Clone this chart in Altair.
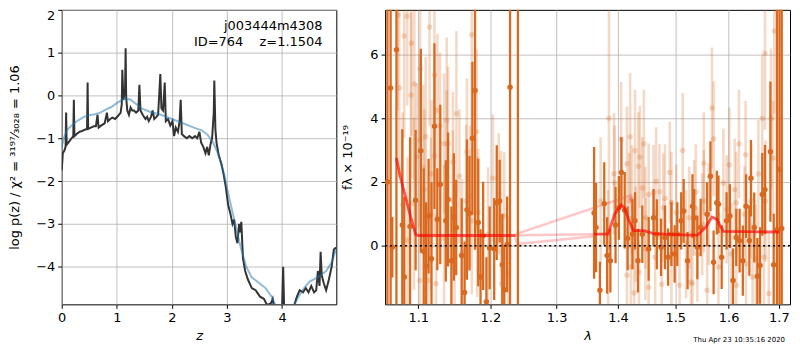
import altair as alt
import pandas as pd

# ---------------- left panel: log p(z) ----------------
z_pz = [0.00, 0.02, 0.05, 0.07, 0.08, 0.09, 0.12, 0.15, 0.18, 0.21, 0.22, 0.23, 0.27, 0.32, 0.37,
        0.42, 0.46, 0.47, 0.48, 0.53, 0.58, 0.62, 0.65, 0.67, 0.72, 0.78, 0.82, 0.84, 0.88, 0.92,
        0.97, 1.02, 1.07, 1.09, 1.10, 1.12, 1.15, 1.16, 1.17, 1.19, 1.22, 1.25, 1.28, 1.31, 1.35,
        1.39, 1.41, 1.43, 1.47, 1.52, 1.55, 1.58, 1.62, 1.65, 1.68, 1.72, 1.75, 1.79, 1.81, 1.84,
        1.87, 1.89, 1.93, 1.97, 2.01, 2.04, 2.07, 2.11, 2.14, 2.16, 2.18, 2.22, 2.27, 2.32, 2.37,
        2.42, 2.46, 2.50, 2.53, 2.57, 2.61, 2.64, 2.67, 2.70, 2.73, 2.76, 2.77, 2.79, 2.81, 2.85,
        2.90, 2.94, 2.98, 3.02, 3.06, 3.10, 3.13, 3.16, 3.19, 3.22, 3.24, 3.26, 3.29, 3.33, 3.38,
        3.45, 3.52, 3.60, 3.67, 3.73, 3.80, 3.83, 3.86, 3.95, 4.00, 4.02, 4.04, 4.15, 4.22, 4.27,
        4.32, 4.38, 4.43, 4.48, 4.53, 4.58, 4.62, 4.65, 4.68, 4.70, 4.72, 4.76, 4.80, 4.85, 4.90,
        4.94, 4.98]
logp = [-1.75, -1.35, -1.28, -1.20, -0.40, -1.15, -1.10, -1.05, -1.00, -0.95, -0.10, -0.95, -0.90, -0.85, -0.83,
        -0.80, -0.78, 0.30, -0.78, -0.75, -0.72, -0.72, -0.45, -0.75, -0.70, -0.65, -0.40, -0.60, -0.55, -0.52,
        -0.55, -0.48, -0.40, -0.20, 0.60, -0.10, 0.15, 1.10, -0.05, -0.35, -0.45, -0.28, -0.35, -0.35, -0.40,
        -0.35, 0.25, -0.35, -0.45, -0.55, -0.50, -0.60, -0.50, -0.35, -0.55, -0.50, -0.45, 0.50, -0.30, -0.35,
        0.30, -0.60, -0.55, -0.70, -0.60, -0.95, -0.75, -0.85, -0.60, -0.10, -0.90, -0.95, -1.00, -0.95, -1.00,
        -0.95, -1.00, -0.85, -1.10, -1.20, -1.35, -1.20, -1.40, -1.15, -1.00, -0.40, 0.35, -0.80, -1.10, -1.40,
        -1.60, -1.85, -2.15, -2.55, -2.75, -3.00, -2.90, -3.30, -3.45, -3.00, -3.20, -2.95, -3.80, -4.10, -4.30,
        -4.50, -4.55, -4.70, -4.75, -4.90, -4.85, -4.75, -5.00, -5.20, -5.00, -4.00, -5.10, -5.30, -4.90, -4.70,
        -4.55, -4.60, -4.50, -4.60, -4.45, -4.60, -4.55, -4.10, -4.45, -3.65, -4.20, -4.40, -4.55, -4.30, -4.00,
        -3.60, -3.55]

z_smooth = [0.00, 0.05, 0.10, 0.20, 0.30, 0.40, 0.50, 0.60, 0.70, 0.80, 0.90, 1.00, 1.10, 1.18, 1.25,
            1.35, 1.45, 1.60, 1.80, 2.00, 2.20, 2.40, 2.55, 2.65, 2.75, 2.85, 2.95, 3.05, 3.15, 3.25,
            3.35, 3.45, 3.60, 3.70, 3.80, 3.90, 4.00, 4.10, 4.20, 4.30, 4.40, 4.50, 4.60, 4.70, 4.80,
            4.90, 4.98]
logp_smooth = [-1.20, -0.95, -0.80, -0.68, -0.58, -0.50, -0.46, -0.44, -0.40, -0.33, -0.27, -0.18, -0.10, -0.07, -0.10,
               -0.20, -0.30, -0.38, -0.45, -0.55, -0.65, -0.75, -0.82, -0.92, -1.10, -1.40, -1.85, -2.45, -3.00, -3.55,
               -4.00, -4.25, -4.40, -4.50, -4.68, -4.95, -5.10, -5.10, -4.95, -4.70, -4.50, -4.35, -4.28, -4.20, -4.10,
               -3.90, -3.60]

z_ticks = [0, 1, 2, 3, 4]
logp_ticks = [-4, -3, -2, -1, 0, 1, 2]
label_root = "j003444m4308"
label_id = "ID=764\u00a0\u00a0\u00a0\u00a0z=1.1504"

# ---------------- right panel: spectrum ----------------
dark_lam = [1.0598, 1.0639, 1.0660, 1.0714, 1.0790, 1.0816, 1.0892, 1.0965, 1.1034, 1.1073,
            1.1104, 1.1138, 1.1177, 1.1217, 1.1256, 1.1296, 1.1372, 1.1403, 1.1449, 1.1483,
            1.1516, 1.1592, 1.1633, 1.1666, 1.1701, 1.1743, 1.1780, 1.1826, 1.1859, 1.1896,
            1.1943, 1.1990, 1.2056, 1.2093, 1.2136, 1.2175, 1.2204, 1.2246, 1.2289, 1.2406,
            1.3601, 1.3633, 1.3697, 1.3769, 1.3817, 1.3871, 1.3958, 1.4014, 1.4057, 1.4113,
            1.4163, 1.4246, 1.4290, 1.4341, 1.4416, 1.4527, 1.4613, 1.4671, 1.4746, 1.4816,
            1.4872, 1.4932, 1.4990, 1.5038, 1.5109, 1.5154, 1.5226, 1.5316, 1.5347, 1.5407,
            1.5468, 1.5589, 1.5652, 1.5712, 1.5773, 1.5805, 1.5866, 1.5960, 1.6024, 1.6085,
            1.6148, 1.6213, 1.6276, 1.6340, 1.6405, 1.6437, 1.6502, 1.6565, 1.6618, 1.6663,
            1.6717, 1.6827, 1.6894, 1.6961, 1.7013, 1.7059]
dark_flux = [2.00, 4.95, -0.05, 6.15, 0.65, -0.98, 0.60, 1.43, 2.98, -0.18,
             -0.64, 0.93, -0.41, 3.75, 0.83, 1.92, 0.78, 1.45, -0.47, 0.90,
             0.57, -0.31, -1.47, 1.13, 1.02, 3.37, 4.87, 0.73, -0.98, 0.31,
             -1.76, -0.07, -0.10, 1.35, 1.40, -0.60, -1.38, 0.04, 4.97, -3.00,
             1.03, 0.57, -1.40, 1.32, -0.31, -0.47, 0.65, 1.19, 2.30, 1.11,
             0.23, 0.36, 0.78, -0.47, 0.36, -0.10, 0.88, 0.36, -0.05, 0.26,
             -0.36, 0.36, -0.26, 0.36, 0.78, 1.09, -0.47, 1.24, 0.88, -0.05,
             0.57, 0.99, 2.18, -0.52, 1.35, 1.30, -0.36, 0.78, 0.93, -1.09,
             0.26, 0.16, -0.47, 1.24, 0.16, 2.12, 0.57, -0.96, -0.62, 1.61,
             1.76, 2.95, -0.60, 0.50, 2.39, 0.54]
dark_err = [12.0, 12.0, 0.95, 9.0, 3.0, 2.5, 2.8, 2.2, 3.2, 2.6,
            2.0, 1.8, 2.4, 2.6, 1.6, 2.5, 1.9, 2.1, 1.7, 2.0,
            1.5, 1.8, 1.6, 2.2, 1.8, 2.4, 5.0, 2.0, 1.5, 1.7,
            1.4, 1.3, 1.6, 1.8, 1.3, 1.6, 1.4, 1.5, 12.0, 20.0,
            2.07, 1.4, 0.9, 1.3, 1.2, 1.0, 1.2, 1.0, 1.1, 1.2,
            1.0, 1.1, 0.9, 1.0, 0.9, 1.0, 0.9, 1.1, 0.9, 1.0,
            0.9, 1.0, 0.9, 1.0, 0.9, 1.0, 0.9, 1.0, 0.9, 1.0,
            0.9, 1.0, 1.1, 1.0, 1.0, 0.9, 1.0, 0.9, 1.0, 1.0,
            0.9, 1.0, 1.1, 1.0, 1.1, 1.2, 1.1, 1.2, 1.2, 1.3,
            1.4, 2.2, 1.6, 12.0, 12.0, 12.0]

light_lam = [1.0730, 1.0854, 1.0815, 1.0909, 1.1151, 1.1026, 1.0948, 1.0904, 1.0751, 1.1217,
             1.1257, 1.1385, 1.1292, 1.1099, 1.1021, 1.1349, 1.1403, 1.1519, 1.0978, 1.1217,
             1.1470, 1.1385, 1.1065, 1.1177, 1.1560, 1.1082, 1.0943, 1.1470, 1.0794, 1.1169,
             1.0859, 1.1349, 1.1492, 1.1130, 1.1239, 1.1021, 1.1734, 1.1666, 1.1803, 1.1711,
             1.1656, 1.1824, 1.1734, 1.2122, 1.2156, 1.2203, 1.1812, 1.2262, 1.2170, 1.2037,
             1.1967, 1.1597,
             1.4052, 1.4206, 1.4443, 1.4290, 1.4374, 1.4151, 1.4347, 1.3932, 1.4902, 1.5137,
             1.4659, 1.4717, 1.4527, 1.4816, 1.4613, 1.4932, 1.3942, 1.4416, 1.4235, 1.4189,
             1.4471, 1.4786, 1.5020, 1.5256, 1.4302, 1.5197, 1.4471, 1.4642, 1.4932, 1.4218,
             1.4151, 1.4358, 1.4527, 1.4758, 1.4274, 1.5079, 1.5287, 1.3833, 1.3709, 1.3847,
             1.5681, 1.6200, 1.5712, 1.5528, 1.6331, 1.6011, 1.6717, 1.6907, 1.6663, 1.6841,
             1.6881, 1.6585, 1.6117, 1.5377, 1.5898, 1.5528, 1.5347, 1.5620, 1.5961, 1.6149,
             1.6437, 1.6309, 1.6729, 1.5497, 1.5407, 1.5805, 1.6053, 1.6340, 1.6533, 1.6697,
             1.5316, 1.5589, 1.6149, 1.6795, 1.6469]
light_flux = [7.24, 7.20, 6.58, 6.35, 6.86, 5.55, 5.07, 4.72, 4.95, 5.36,
              4.25, 3.93, 3.76, 3.42, 3.32, 3.20, 3.21, 4.14, 2.80, 2.82,
              2.63, 2.47, 2.44, 2.26, 2.18, 1.77, 1.32, 1.42, 1.28, 0.99,
              0.18, 0.24, -0.36, -1.09, -1.19, -1.09, 6.62, 2.95, 3.58, 1.56,
              1.40, 1.04, 0.78, 1.63, 0.88, 0.93, 0.59, -0.86, -1.21, 2.12,
              0.36, -0.21,
              3.34, 3.42, 3.19, 2.99, 2.78, 2.57, 2.49, 2.26, 2.30, 2.99,
              2.02, 1.69, 1.61, 1.48, 1.66, 1.35, 1.97, 1.81, 1.45, 1.40,
              0.88, 1.19, 1.04, 0.88, 0.36, 0.05, -0.10, -0.36, -0.26, -0.67,
              -0.93, -0.83, -1.30, -1.21, -1.48, -1.24, -1.14, -0.05, 1.40, 4.00,
              4.32, 3.19, 3.35, 2.59, 2.85, 2.54, 6.04, 6.74, 3.99, 3.99,
              2.75, 2.25, 1.76, 1.68, 1.97, 1.40, 1.19, 0.99, 1.14, 1.35,
              1.40, 0.99, 1.40, 0.67, -0.26, -0.67, -0.26, -0.57, -0.41, -0.36,
              -1.19, -1.40, -1.24, -1.50, -0.98]
light_err = [3.0, 2.8, 3.2, 2.9, 3.1, 2.7, 3.0, 2.6, 2.8, 2.9,
             2.4, 2.6, 2.3, 2.5, 2.7, 2.2, 2.4, 2.6, 2.3, 2.5,
             2.2, 2.4, 2.6, 2.3, 2.1, 2.5, 2.7, 2.2, 2.9, 2.4,
             2.6, 2.3, 2.1, 2.4, 2.2, 2.5, 3.2, 2.3, 2.6, 2.2,
             2.4, 2.0, 2.3, 1.9, 2.1, 2.0, 2.2, 1.8, 1.9, 2.0,
             2.1, 2.3,
             1.8, 2.0, 1.7, 1.9, 1.6, 1.8, 1.7, 1.9, 1.6, 1.8,
             1.7, 1.5, 1.6, 1.7, 1.5, 1.6, 1.8, 1.6, 1.7, 1.5,
             1.6, 1.7, 1.5, 1.6, 1.5, 1.7, 1.6, 1.5, 1.7, 1.6,
             1.5, 1.6, 1.7, 1.5, 1.6, 1.7, 1.6, 1.8, 2.0, 3.6,
             1.9, 1.7, 1.8, 1.6, 1.7, 1.8, 2.4, 2.6, 2.0, 2.2,
             1.8, 1.7, 1.6, 1.5, 1.7, 1.6, 1.5, 1.6, 1.7, 1.6,
             1.8, 1.5, 1.9, 1.6, 1.5, 1.7, 1.6, 1.8, 1.7, 1.9,
             1.6, 1.7, 1.8, 1.9, 1.7]

# best-fit model, one list per drawn trace
model_seg = ["a"] * 7 + ["b"] * 16
model_lam = [1.0714, 1.0760, 1.0836, 1.0900, 1.0965, 1.1000, 1.2370,
             1.3600, 1.3833, 1.3942, 1.4052, 1.4107, 1.4189, 1.4263, 1.4443,
             1.4613, 1.5256, 1.5407, 1.5558, 1.5681, 1.5773, 1.5898, 1.7007]
model_flux = [2.75, 2.20, 1.50, 0.90, 0.36, 0.32, 0.32,
              0.36, 0.36, 0.99, 1.28, 1.19, 0.78, 0.47, 0.47,
              0.38, 0.33, 0.33, 0.57, 0.90, 0.83, 0.45, 0.43]
faint_seg = ["p1", "p1", "p1", "p2", "p2", "p3", "p3", "p3"]
faint_lam = [1.2370, 1.4218, 1.4280, 1.2370, 1.3600, 1.2360, 1.2395, 1.3600]
faint_flux = [0.36, 1.58, 0.50, 0.33, 0.36, 0.33, 0.05, 0.30]

lam_ticks = [1.1, 1.2, 1.3, 1.4, 1.5, 1.6, 1.7]
flux_ticks = [0, 2, 4, 6]
timestamp = "Thu Apr 23 10:35:16 2020"

# ---------------- build ----------------
ORANGE = "#d9691e"
FONT = "DejaVu Sans"

df_pz = pd.DataFrame({"z": z_pz, "logp": logp})
df_sm = pd.DataFrame({"z": z_smooth, "logp": logp_smooth})

xz = alt.X("z:Q", scale=alt.Scale(domain=[0, 4.985], nice=False, zero=False),
           axis=alt.Axis(values=z_ticks, title="z", titleFontStyle="italic", format="d",
                         labelFlush=False, titlePadding=5))
yp = alt.Y("logp:Q", scale=alt.Scale(domain=[-4.88, 2], nice=False, zero=False),
           axis=alt.Axis(values=logp_ticks, format="d", labelFlush=True,
                         title="log p(z) / χ² = ³¹⁹⁷⁄₃₀₂₈ = 1.06", titlePadding=14))

l_dark = alt.Chart(df_pz).mark_line(color="#333333", strokeWidth=2, clip=True).encode(x=xz, y=yp)
l_blue = alt.Chart(df_sm).mark_line(color="#1f77b4", opacity=0.5, strokeWidth=2, clip=True).encode(x=xz, y=yp)
df_lab = pd.DataFrame({"t": [label_root]})
t1 = alt.Chart(df_lab).mark_text(align="right", baseline="middle", fontSize=13, font=FONT, color="black").encode(
    x=alt.value(262), y=alt.value(16), text="t:N")
df_lab2 = pd.DataFrame({"t": [label_id]})
t2 = alt.Chart(df_lab2).mark_text(align="right", baseline="middle", fontSize=13, font=FONT, color="black").encode(
    x=alt.value(262), y=alt.value(32), text="t:N")

left = alt.layer(l_dark, l_blue, t1, t2).properties(width=276, height=296)

df_dark = pd.DataFrame({"lam": dark_lam, "flux": dark_flux, "err": dark_err})
df_light = pd.DataFrame({"lam": light_lam, "flux": light_flux, "err": light_err})
df_model = pd.DataFrame({"seg": model_seg, "lam": model_lam, "flux": model_flux,
                         "ord": list(range(len(model_lam)))})
df_faint = pd.DataFrame({"seg": faint_seg, "lam": faint_lam, "flux": faint_flux,
                         "ord": list(range(len(faint_lam)))})

xl = alt.X("lam:Q", scale=alt.Scale(type="log", domain=[1.0568, 1.723], nice=False, zero=False),
           axis=alt.Axis(values=lam_ticks, format=".1f", title="λ", titleFontStyle="italic",
                         labelFlush=False, titlePadding=5))
yscale = alt.Scale(domain=[-1.84, 7.4], nice=False, zero=False)
yaxis = alt.Axis(values=flux_ticks, format="d", title="fλ × 10⁻¹⁹", titlePadding=15)
yf = alt.Y("flux:Q", scale=yscale, axis=yaxis)

def bars(df, opacity, width):
    base = alt.Chart(df).transform_calculate(lo="datum.flux - datum.err", hi="datum.flux + datum.err")
    r = base.mark_rule(color=ORANGE, opacity=opacity, strokeWidth=width, clip=True).encode(
        x=xl, y=alt.Y("lo:Q", scale=yscale, axis=yaxis), y2="hi:Q")
    p = base.mark_circle(color=ORANGE, opacity=opacity, size=30, clip=True).encode(x=xl, y=yf)
    return r, p

lr, lp = bars(df_light, 0.25, 2.6)
dr, dp = bars(df_dark, 1.0, 2.3)

m_faint = alt.Chart(df_faint).mark_line(color="red", opacity=0.22, strokeWidth=2.5, clip=True).encode(
    x=xl, y=yf, detail="seg:N", order="ord:Q")
m_red = alt.Chart(df_model).mark_line(color="red", opacity=0.65, strokeWidth=2.8, clip=True).encode(
    x=xl, y=yf, detail="seg:N", order="ord:Q")
zero = alt.Chart(pd.DataFrame({"flux": [0]})).mark_rule(color="black", strokeDash=[2, 3], strokeWidth=1.6).encode(
    y=alt.Y("flux:Q", scale=yscale, axis=yaxis))
ts = alt.Chart(pd.DataFrame({"t": [timestamp]})).mark_text(align="right", baseline="middle", fontSize=7,
                                                            font=FONT, color="black").encode(
    x=alt.value(402), y=alt.value(332), text="t:N")

right = alt.layer(lr, lp, m_faint, dr, dp, m_red, zero, ts).properties(width=407, height=296)

chart = alt.hconcat(left, right, spacing=4).properties(padding=0).configure_view(
    stroke="black", strokeWidth=1
).configure_axis(
    grid=True, gridColor="#b0b0b0", gridWidth=0.8, domain=False,
    tickColor="black", tickSize=4, labelPadding=3, labelOverlap=False,
    labelFont=FONT, labelFontSize=13, labelColor="black",
    titleFont=FONT, titleFontSize=13, titleFontWeight="normal", titleColor="black"
)

chart.save("out.html", embed_options={"renderer": "svg", "actions": False})
